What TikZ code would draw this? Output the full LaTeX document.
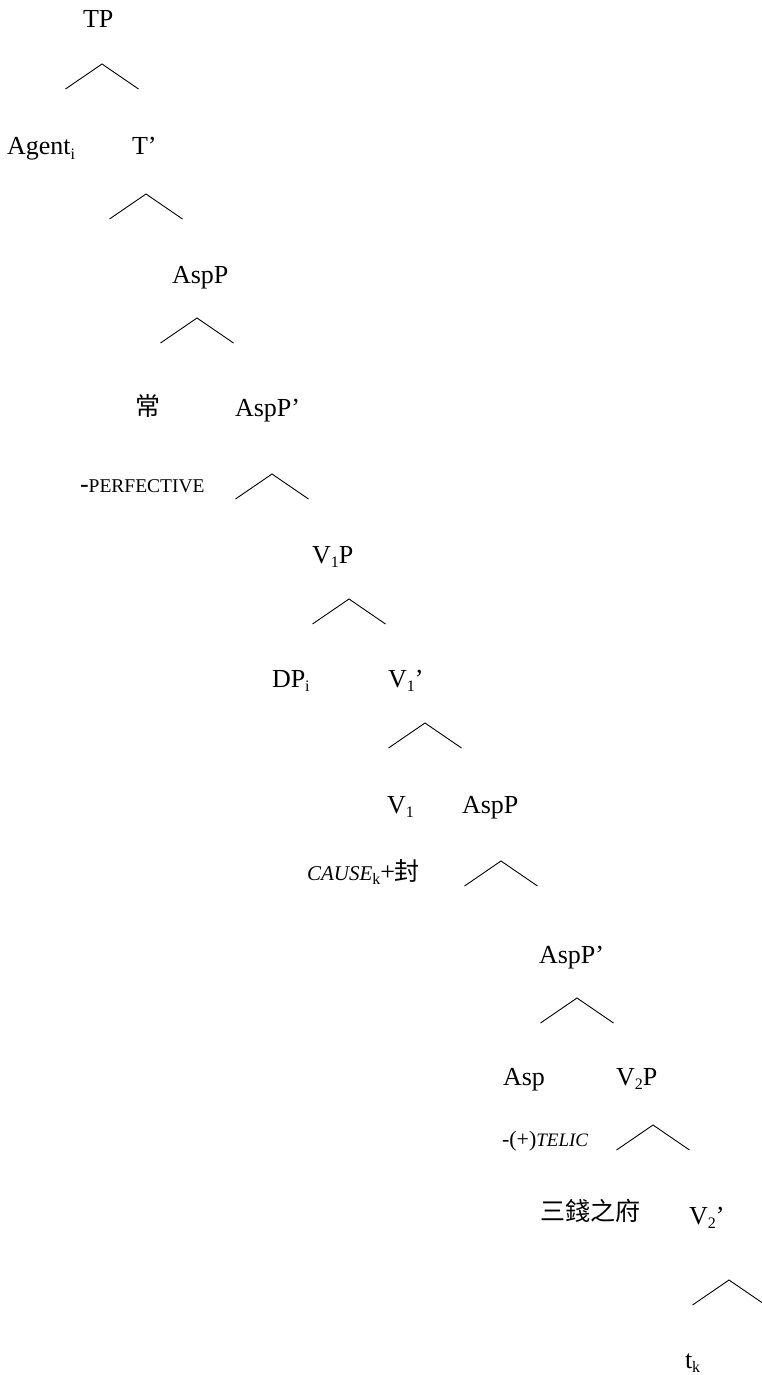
\documentclass[tikz,border=0pt]{standalone}
\usepackage{fontspec}
\setmainfont{Liberation Serif}
\newfontfamily\cjkfam{Noto Sans CJK TC}
% Chinese text at its own size
\newcommand\cjk[1]{{\fontsize{25}{30}\selectfont\cjkfam #1}}
% lowered small index after a label
\newcommand\subl[1]{\raisebox{-0.18em}{\fontsize{16}{19}\selectfont #1}}
\begin{document}
\begin{tikzpicture}[x=1pt,y=-1pt,
  lab/.style={inner sep=0pt,outer sep=0pt,anchor=base west,font=\fontsize{26}{31}\selectfont},
  branch/.style={line width=0.9pt,line join=miter}]
\useasboundingbox (0,0) rectangle (761,1375);

% labels of the tree
\node[lab] (tp)      at (83,28)    {TP};
\node[lab] (agent)   at (7,155)    {Agent\subl{i}};
\node[lab] (tbar)    at (132,155)  {T’};
\node[lab] (asp1)    at (172,283)  {AspP};
\node[lab] (chang)   at (135,415)  {\cjk{常}};
\node[lab] (aspbar1) at (235,416)  {AspP’};
\node[lab] (perf)    at (80,492)   {-{\fontsize{19.5}{22}\selectfont PERFECTIVE}};
\node[lab] (v1p)     at (312,563)  {V\subl{1}P};
\node[lab] (dp)      at (272,687)  {DP\subl{i}};
\node[lab] (v1bar)   at (388,687)  {V\subl{1}’};
\node[lab] (v1)      at (387,813)  {V\subl{1}};
\node[lab] (asp2)    at (462,813)  {AspP};
\node[lab] (cause)   at (307,880)  {{\fontsize{21}{24}\selectfont\itshape CAUSE}\subl{k}+\cjk{封}};
\node[lab] (aspbar2) at (539,963)  {AspP’};
\node[lab] (aspt)    at (503,1085) {Asp};
\node[lab] (v2p)     at (616,1085) {V\subl{2}P};
\node[lab] (telic)   at (502,1146) {{\fontsize{22}{25}\selectfont -(+)}{\fontsize{19}{22}\selectfont\itshape TELIC}};
\node[lab] (sanqian) at (540,1220) {\cjk{三錢之府}};
\node[lab] (v2bar)   at (689,1224) {V\subl{2}’};
\node[lab] (tk)      at (685,1368) {t\subl{k}};

% apexes of the branchings
\coordinate (c1)  at (102,64);
\coordinate (c2)  at (146,194);
\coordinate (c3)  at (197,318);
\coordinate (c4)  at (272,474);
\coordinate (c5)  at (349,599);
\coordinate (c6)  at (425,723);
\coordinate (c7)  at (501,861);
\coordinate (c8)  at (577,998);
\coordinate (c9)  at (653,1125);
\coordinate (c10) at (729,1280);

\foreach \c in {c1,c2,c3,c4,c5,c6,c7,c8,c9,c10}
  \draw[branch] ([shift={(-36.5,25)}]\c) -- (\c) -- ([shift={(36.5,25)}]\c);
\end{tikzpicture}
\end{document}
